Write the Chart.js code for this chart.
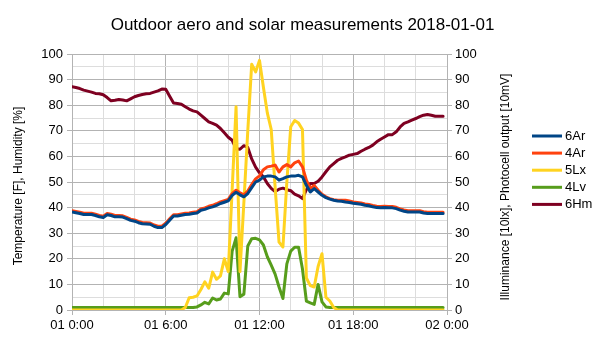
<!DOCTYPE html>
<html>
<head>
<meta charset="utf-8">
<script src="https://cdn.jsdelivr.net/npm/chart.js@4/dist/chart.umd.min.js"></script>
<style>
  html, body { margin: 0; padding: 0; background: #fff; }
  #wrap { width: 605px; height: 340px; }
</style>
</head>
<body>
<div id="wrap"><canvas id="c" width="605" height="340"></canvas></div>
<script>
// Sample times in hours since 2018-01-01 00:00 (15-minute readings)
const times = Array.from({ length: 96 }, (_, i) => i / 4);

const seriesNames = ['6Ar', '4Ar', '5Lx', '4Lv', '6Hm'];

const ar6 = [
  38.3, 38.0, 37.7, 37.3, 37.3, 37.3, 36.9, 36.4, 36.1, 37.2, 36.9, 36.4,
  36.4, 36.3, 35.7, 35.0, 34.7, 34.1, 33.7, 33.6, 33.5, 32.7, 32.2, 32.2,
  33.4, 35.1, 36.7, 36.7, 37.0, 37.3, 37.4, 37.7, 37.9, 39.0, 39.3, 39.9,
  40.3, 40.9, 41.6, 42.1, 42.6, 44.8, 46.0, 45.0, 44.2, 45.5, 47.8, 50.0,
  50.7, 52.0, 52.3, 52.3, 52.0, 50.7, 51.3, 52.0, 52.3, 52.3, 52.6, 52.0,
  48.7, 46.1, 47.4, 46.1, 44.8, 43.9, 43.3, 42.9, 42.6, 42.5, 42.2, 42.0,
  41.7, 41.5, 41.3, 40.9, 40.7, 40.3, 40.0, 39.9, 40.0, 39.9, 39.9, 39.6,
  39.0, 38.6, 38.3, 38.3, 38.3, 38.3, 37.9, 37.7, 37.7, 37.7, 37.7, 37.7
];

const ar4 = [
  38.8, 38.5, 38.2, 37.8, 37.8, 37.8, 37.4, 36.9, 36.6, 37.7, 37.4, 36.9,
  36.9, 36.8, 36.2, 35.5, 35.2, 34.6, 34.2, 34.1, 34.0, 33.2, 32.7, 32.7,
  33.9, 35.6, 37.2, 37.2, 37.5, 37.8, 37.9, 38.2, 38.4, 39.5, 39.9, 40.5,
  40.9, 41.5, 42.2, 42.7, 43.2, 45.5, 46.8, 45.8, 45.0, 46.5, 49.0, 51.2,
  52.4, 54.8, 55.9, 56.2, 56.6, 53.9, 55.9, 56.8, 55.9, 57.5, 58.2, 55.9,
  50.7, 47.4, 48.7, 46.8, 45.2, 44.2, 43.5, 43.1, 42.9, 42.9, 42.9, 42.6,
  42.2, 42.0, 41.8, 41.4, 41.2, 40.8, 40.5, 40.4, 40.5, 40.4, 40.4, 40.1,
  39.5, 39.1, 38.8, 38.8, 38.8, 38.8, 38.4, 38.2, 38.2, 38.2, 38.2, 38.2
];

const lx5 = [
  0, 0, 0, 0, 0, 0, 0, 0, 0, 0, 0, 0,
  0, 0, 0, 0, 0, 0, 0, 0, 0, 0, 0, 0,
  0, 0, 0, 0, 0, 1, 4.8, 5, 5.5, 8, 11, 8.5,
  14.8, 12, 13.3, 20, 15, 47, 79.4, 15, 42, 70, 96, 93,
  97.5, 87, 77, 70.5, 48, 26.5, 24.6, 50, 71.6, 74, 73, 70.5,
  12.5, 9.5, 9, 17, 22, 5, 3.5, 1, 0, 0, 0, 0,
  0, 0, 0, 0, 0, 0, 0, 0, 0, 0, 0, 0,
  0, 0, 0, 0, 0, 0, 0, 0, 0, 0, 0, 0
];

const lv4 = [
  1, 1, 1, 1, 1, 1, 1, 1, 1, 1, 1, 1,
  1, 1, 1, 1, 1, 1, 1, 1, 1, 1, 1, 1,
  1, 1, 1, 1, 1, 1, 1, 1, 1.2, 2, 3, 2.4,
  4.7, 3.9, 4.3, 6.6, 6.3, 23, 28.2, 5.2, 6.2, 25, 27.8, 28,
  27.4, 25.4, 20.8, 17.5, 14, 9, 4.5, 18, 23, 24.5, 24.5, 16,
  3.5, 2.8, 2.2, 10, 3.2, 1.2, 1, 1, 1, 1, 1, 1,
  1, 1, 1, 1, 1, 1, 1, 1, 1, 1, 1, 1,
  1, 1, 1, 1, 1, 1, 1, 1, 1, 1, 1, 1
];

const hm6 = [
  87.2, 86.9, 86.5, 85.9, 85.5, 85.1, 84.6, 84.5, 84.1, 83.0, 81.7, 81.9,
  82.2, 82.0, 81.7, 82.5, 83.3, 83.8, 84.2, 84.5, 84.6, 85.1, 85.6, 86.3,
  86.2, 83.5, 80.9, 80.7, 80.4, 79.4, 78.5, 77.8, 77.4, 76.1, 74.8, 73.5,
  72.9, 72.2, 70.9, 69.2, 67.5, 66.3, 63.0, 62.8, 64.2, 63.5, 59.0, 55.8,
  53.6, 52.0, 49.4, 47.5, 46.3, 47.2, 47.6, 47.0, 46.6, 45.3, 44.6, 43.5,
  47.0, 49.4, 49.4, 50.3, 52.0, 54.0, 55.9, 57.2, 58.5, 59.2, 59.8, 60.5,
  60.8, 61.1, 62.0, 62.8, 63.5, 64.4, 65.7, 66.7, 67.6, 68.5, 68.5, 69.6,
  71.5, 72.9, 73.5, 74.2, 74.8, 75.5, 76.1, 76.4, 76.1, 75.7, 75.7, 75.7
];

const xTickLabels = ['01 0:00', '01 6:00', '01 12:00', '01 18:00', '02 0:00'];
const titleText = 'Outdoor aero and solar measurements 2018-01-01';
const leftAxisTitle = 'Temperature [F], Humidity [%]';
const rightAxisTitle = 'Illuminance [10lx], Photocell output [10mV]';

const colors = ['#004586', '#ff420e', '#ffd320', '#579d1c', '#7e0021'];
const values = [ar6, ar4, lx5, lv4, hm6];
const axisFor = ['y', 'y', 'y2', 'y2', 'y'];

const MAJOR = '#b3b3b3';
const MINOR = '#dddddd';
const FONT = "'Liberation Sans', Arial, sans-serif";

Chart.defaults.font.family = FONT;
Chart.defaults.color = '#000';

const datasets = seriesNames.map((name, k) => ({
  label: name,
  data: times.map((t, i) => ({ x: t, y: values[k][i] })),
  borderColor: colors[k],
  backgroundColor: colors[k],
  borderWidth: 3,
  pointRadius: 0,
  tension: 0,
  yAxisID: axisFor[k],
  borderJoinStyle: 'round',
  borderCapStyle: 'round'
}));

function drawVerticalText(ctx, text, x, y) {
  ctx.save();
  ctx.translate(x, y);
  ctx.rotate(-Math.PI / 2);
  ctx.font = '12px ' + FONT;
  ctx.textAlign = 'center';
  ctx.textBaseline = 'middle';
  ctx.fillStyle = '#000';
  ctx.fillText(text, 0, 0);
  ctx.restore();
}

// Side legend and both axis titles (both read bottom-to-top)
const sidePlugin = {
  id: 'sideLegend',
  afterDraw(chart) {
    const ctx = chart.ctx;
    ctx.save();
    chart.data.datasets.forEach((ds, i) => {
      const y = 136 + i * 17.1;
      ctx.strokeStyle = ds.borderColor;
      ctx.lineWidth = 3;
      ctx.beginPath();
      ctx.moveTo(532, y);
      ctx.lineTo(562, y);
      ctx.stroke();
      ctx.fillStyle = '#000';
      ctx.font = '13px ' + FONT;
      ctx.textBaseline = 'middle';
      ctx.textAlign = 'left';
      ctx.fillText(ds.label, 565, y + 0.5);
    });
    ctx.restore();
    const area = chart.chartArea;
    const midY = (area.top + area.bottom) / 2;
    drawVerticalText(ctx, leftAxisTitle, 19, midY + 4);
    drawVerticalText(ctx, rightAxisTitle, 506, midY + 5);
  }
};

new Chart(document.getElementById('c'), {
  type: 'line',
  data: { datasets },
  plugins: [sidePlugin],
  options: {
    responsive: false,
    animation: false,
    layout: { padding: { left: 0, right: 0, top: 0, bottom: 0 } },
    plugins: {
      legend: { display: false },
      tooltip: { enabled: false },
      title: {
        display: true,
        text: titleText,
        font: { size: 17, weight: 'normal', family: FONT },
        color: '#000',
        padding: { top: 15, bottom: 18.6 }
      }
    },
    scales: {
      x: {
        type: 'linear',
        min: 0,
        max: 24,
        afterFit: (s) => { s.height = 30; },
        ticks: {
          stepSize: 2,
          autoSkip: false,
          maxRotation: 0,
          padding: 3,
          font: { size: 13 },
          color: '#000',
          callback: (v) => (v % 6 === 0 ? xTickLabels[v / 6] : '')
        },
        grid: {
          color: (c) => (c.tick && c.tick.value % 6 === 0 ? MAJOR : MINOR),
          tickColor: (c) => (c.tick && c.tick.value % 6 === 0 ? MAJOR : 'rgba(0,0,0,0)'),
          tickLength: 5,
          lineWidth: 1
        },
        border: { color: MAJOR }
      },
      y: {
        position: 'left',
        min: 0,
        max: 100,
        afterFit: (s) => { s.width = 72; },
        ticks: {
          stepSize: 5,
          autoSkip: false,
          padding: 4,
          font: { size: 13 },
          color: '#000',
          callback: (v) => (v % 10 === 0 ? v : '')
        },
        grid: {
          color: (c) => (c.tick && c.tick.value % 10 === 0 ? MAJOR : MINOR),
          tickColor: (c) => (c.tick && c.tick.value % 10 === 0 ? MAJOR : 'rgba(0,0,0,0)'),
          tickLength: 5
        },
        border: { color: MAJOR },
        title: { display: false }
      },
      y2: {
        position: 'right',
        min: 0,
        max: 100,
        afterFit: (s) => { s.width = 158; },
        ticks: {
          stepSize: 5,
          autoSkip: false,
          padding: 3,
          font: { size: 13 },
          color: '#000',
          callback: (v) => (v % 10 === 0 ? v : '')
        },
        grid: {
          drawOnChartArea: false,
          tickColor: (c) => (c.tick && c.tick.value % 10 === 0 ? MAJOR : 'rgba(0,0,0,0)'),
          tickLength: 5
        },
        border: { color: MAJOR },
        title: { display: false }
      }
    }
  }
});
</script>
</body>
</html>
